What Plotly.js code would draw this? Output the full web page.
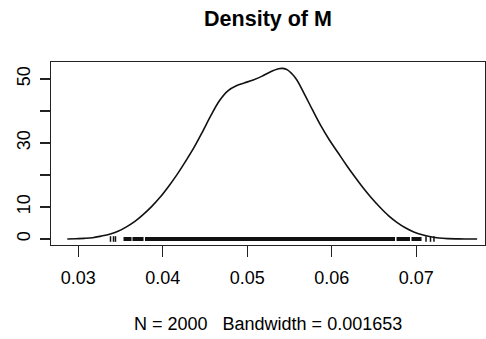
<!DOCTYPE html>
<html>
<head>
<meta charset="utf-8">
<script src="https://cdn.plot.ly/plotly-3.0.1.min.js"></script>
<style>html,body{margin:0;padding:0;background:#fff;} #chart{width:486px;height:339px;}</style>
</head>
<body>
<div id="chart"></div>
<script>
// Density curve
const densX = [0.0287, 0.0297, 0.0307, 0.0317, 0.0327, 0.0337, 0.0347, 0.0357, 0.0367, 0.0377,
  0.0387, 0.0397, 0.0407, 0.0417, 0.0427, 0.0437, 0.0447, 0.0457, 0.0467, 0.0477,
  0.0487, 0.0497, 0.0507, 0.0517, 0.0527, 0.0537, 0.0542, 0.0547, 0.0557, 0.0567,
  0.0577, 0.0587, 0.0597, 0.0607, 0.0617, 0.0627, 0.0637, 0.0647, 0.0657, 0.0667,
  0.0677, 0.0687, 0.0697, 0.0707, 0.0717, 0.0727, 0.0737, 0.0747, 0.0757, 0.0772];
const densY = [0.0, 0.1, 0.2, 0.4, 0.9, 1.5, 2.4, 3.8, 5.5, 7.7,
  10.2, 13.1, 16.5, 20.2, 24.3, 28.6, 33.5, 38.6, 43.2, 46.3,
  47.9, 48.8, 49.7, 50.8, 52.2, 53.2, 53.3, 52.9, 50.3, 45.6,
  40.4, 35.4, 31.0, 27.1, 23.2, 19.5, 16.0, 12.8, 9.9, 7.3,
  5.2, 3.5, 2.2, 1.3, 0.7, 0.3, 0.12, 0.05, 0.02, 0.0];

// Rug: stretches where the tick marks merge into a solid band, and isolated ticks
const rugBandStart = [0.03535, 0.03641, 0.03789, 0.06766, 0.06943];
const rugBandEnd   = [0.03630, 0.03772, 0.06748, 0.06925, 0.07062];
const rugSingles   = [0.03381, 0.03417, 0.03440, 0.07115, 0.07168, 0.07209];

const xTicks = [0.03, 0.04, 0.05, 0.06, 0.07];
const xTickText = ['0.03', '0.04', '0.05', '0.06', '0.07'];
const yTicks = [0, 10, 20, 30, 40, 50];
const yTickText = ['0', '10', '', '30', '', '50'];

const titleText = 'Density of M';
const subText = 'N = 2000   Bandwidth = 0.001653';

const bandX = [], bandY = [];
for (let i = 0; i < rugBandStart.length; i++) {
  bandX.push(rugBandStart[i], rugBandEnd[i], null);
  bandY.push(0, 0, null);
}

const FONT = 'Liberation Sans, Arial, Helvetica, sans-serif';

const traces = [
  {x: densX, y: densY, mode: 'lines', type: 'scatter',
   line: {color: '#111', width: 1.6, shape: 'spline', smoothing: 1}, hoverinfo: 'skip'},
  {x: bandX, y: bandY, mode: 'lines', type: 'scatter',
   line: {color: '#111', width: 4}, hoverinfo: 'skip'},
  {x: rugSingles, y: rugSingles.map(() => 0), mode: 'markers', type: 'scatter',
   marker: {symbol: 'line-ns', size: 4, line: {color: '#111', width: 1.5}}, hoverinfo: 'skip'}
];

const layout = {
  width: 486, height: 339,
  margin: {l: 51, r: 1, t: 62, b: 94},
  paper_bgcolor: '#fff', plot_bgcolor: '#fff',
  showlegend: false,
  font: {family: FONT, size: 18, color: '#000'},
  title: {text: '<b>' + titleText + '</b>', font: {family: FONT, size: 21.5, color: '#000'},
          x: 0.5, xref: 'paper', xanchor: 'center', y: 1 - 18 / 339, yref: 'container', yanchor: 'middle'},
  xaxis: {range: [0.02677, 0.07813], tickvals: xTicks, ticktext: xTickText,
          showgrid: false, zeroline: false, showline: true, mirror: true,
          linecolor: '#222', linewidth: 1.2, ticks: 'outside', ticklen: 11, tickwidth: 1.2,
          tickcolor: '#222', ticklabelstandoff: 5, tickfont: {size: 18}},
  yaxis: {range: [-1.875, 55.3], tickvals: yTicks, ticktext: yTickText,
          showgrid: false, zeroline: false, showline: true, mirror: true,
          linecolor: '#222', linewidth: 1.2, ticks: 'outside', ticklen: 10, tickwidth: 1.2,
          tickcolor: '#222', tickangle: -90, ticklabelstandoff: 3, tickfont: {size: 18}},
  annotations: [{text: subText, xref: 'paper', yref: 'paper', x: 0.5, y: 0,
                 xanchor: 'center', yanchor: 'middle', yshift: -79, showarrow: false,
                 font: {family: FONT, size: 18, color: '#000'}}]
};

Plotly.newPlot('chart', traces, layout, {displayModeBar: false, staticPlot: true});
</script>
</body>
</html>
